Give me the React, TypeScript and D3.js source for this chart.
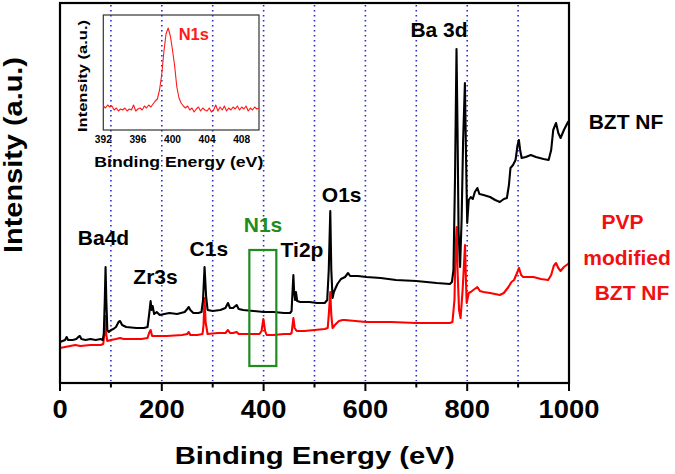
import React from "react";
import * as d3 from "d3";

// ---- Data (binding energy in eV, intensity in arbitrary units) ----
const bztNF: [number, number][] = [
  [0, 41], [5, 42], [10, 43], [13, 46], [16, 43], [25, 43], [32, 44], [36, 46], [39, 47], [42, 44],
  [50, 43], [60, 44], [70, 43], [80, 44], [84, 43], [86, 49], [88, 83], [89.5, 116], [91, 83], [93, 53],
  [96, 51], [100, 53], [105, 54], [110, 56], [115, 61], [118, 62], [122, 58], [130, 56], [150, 55], [165, 55],
  [172, 56], [175, 68], [178, 82], [180, 73], [182, 77], [185, 69], [190, 71], [196, 68], [205, 69], [215, 70],
  [230, 69], [245, 71], [250, 74], [253, 76], [256, 73], [262, 70], [272, 70], [278, 71], [281, 83], [284, 116],
  [287, 87], [290, 73], [300, 72], [315, 73], [325, 75], [330, 80], [334, 75], [340, 75], [347, 78], [351, 74],
  [360, 73], [380, 72], [400, 71], [420, 71], [440, 70], [452, 70], [455, 72], [457, 93], [458.5, 108], [460, 91],
  [462, 83], [463.5, 91], [466, 82], [472, 81], [490, 81], [505, 80], [520, 80], [525, 83], [528, 113], [531, 172],
  [533, 113], [535.5, 85], [538, 91], [545, 99], [552, 104], [560, 106], [566, 110], [570, 107], [585, 107], [602, 106],
  [630, 105], [660, 103], [700, 102], [740, 100], [766, 99], [770, 101], [773, 113], [776, 203], [779, 334], [781, 253],
  [783, 153], [786, 116], [789, 163], [792, 243], [795.5, 300], [797.5, 233], [800, 160], [803, 183], [807, 186], [811, 184],
  [815, 191], [820, 195], [824, 189], [832, 188], [845, 186], [855, 183], [864, 181], [872, 184], [878, 185], [882, 198],
  [885, 215], [890, 218], [895, 223], [899, 238], [901.5, 243], [904, 233], [907, 225], [915, 226], [925, 228], [935, 226],
  [950, 224], [960, 223], [965, 233], [969, 253], [974.5, 260], [979, 250], [983.5, 245], [990, 253], [998, 261], [1000, 262],
];

const pvpBztNF: [number, number][] = [
  [0, 35], [10, 36], [20, 37], [30, 38], [40, 37], [60, 38], [80, 38], [85, 39], [87, 48], [89.5, 67],
  [91, 48], [93, 42], [100, 43], [110, 44], [118, 45], [125, 44], [140, 44], [160, 44], [172, 45], [175, 50],
  [178, 53], [181, 47], [190, 47], [210, 47], [240, 48], [250, 49], [253, 51], [256, 48], [270, 48], [280, 49],
  [282, 58], [284, 85], [286, 61], [290, 49], [310, 50], [325, 50], [330, 53], [334, 50], [340, 50], [347, 51],
  [351, 49], [370, 49], [392, 49], [396, 52], [399.5, 64], [403, 52], [406, 48], [420, 48], [440, 49], [452, 49],
  [455, 50], [458.5, 65], [461, 55], [465, 52], [480, 52], [500, 53], [520, 54], [526, 55], [528, 68], [531, 91],
  [533, 68], [535.5, 55], [540, 58], [548, 62], [555, 63], [560, 63], [580, 62], [602, 61], [650, 61], [700, 60],
  [740, 60], [766, 60], [771, 61], [775, 83], [777, 133], [779.3, 156], [781, 113], [784, 73], [787, 65], [791, 93],
  [795.7, 138], [797.5, 103], [799, 80], [803, 90], [807, 91], [812, 93], [820, 96], [825, 92], [832, 91], [845, 90],
  [864, 88], [872, 90], [881, 96], [887, 101], [892, 103], [897, 109], [901.8, 115], [906, 108], [910, 106], [930, 106],
  [945, 104], [959, 103], [965, 108], [970, 117], [974.5, 120], [979, 115], [983.5, 112], [990, 116], [998, 119], [1000, 120],
];

// Inset: N1s high-resolution spectrum
const n1sSpectrum: [number, number][] = [
  [392.0, 24], [392.25, 22], [392.5, 25], [392.75, 23], [393.0, 24], [393.25, 20], [393.5, 22], [393.75, 19],
  [394.0, 21], [394.25, 20], [394.5, 22], [394.75, 19], [395.0, 21], [395.25, 20], [395.5, 25], [395.75, 19],
  [396.0, 21], [396.25, 22], [396.5, 20], [396.75, 24], [397.0, 22], [397.25, 25], [397.5, 23], [397.75, 26],
  [398.0, 29], [398.25, 31], [398.5, 40], [398.75, 55], [399.0, 78], [399.25, 96], [399.5, 102], [399.75, 94],
  [400.0, 80], [400.25, 64], [400.5, 43], [400.75, 32], [401.0, 27], [401.25, 24], [401.5, 22], [401.75, 24],
  [402.0, 20], [402.25, 22], [402.5, 18], [402.75, 21], [403.0, 23], [403.25, 19], [403.5, 22], [403.75, 20],
  [404.0, 19], [404.25, 22], [404.5, 18], [404.75, 20], [405.0, 25], [405.25, 19], [405.5, 23], [405.75, 20],
  [406.0, 24], [406.25, 19], [406.5, 22], [406.75, 20], [407.0, 23], [407.25, 21], [407.5, 24], [407.75, 20],
  [408.0, 23], [408.25, 21], [408.5, 24], [408.75, 19], [409.0, 22], [409.25, 20], [409.5, 23], [409.75, 21],
  [410.0, 22],
];

const xDomain: [number, number] = [0, 1000];
const yDomain: [number, number] = [0, 380];
const insetXDomain: [number, number] = [392, 410];
const insetYDomain: [number, number] = [0, 115];
const insetTicks = [392, 396, 400, 404, 408];
const gridEnergies = [100, 200, 300, 400, 500, 600, 700, 800, 900];

const peakLabels = ["Ba4d", "Zr3s", "C1s", "Ti2p", "O1s", "Ba 3d"];

const FONT = "'Liberation Sans', Arial, Helvetica, sans-serif";

export default function App() {
  const W = 675, H = 474;
  const left = 60, right = 569, top = 3, bottom = 383;
  const x = d3.scaleLinear().domain(xDomain).range([left, right]);
  const y = d3.scaleLinear().domain(yDomain).range([bottom, top]);

  const line = d3.line<[number, number]>().x((d) => x(d[0])).y((d) => y(d[1]));

  // inset
  const iL = 103.3, iR = 259, iT = 15, iB = 130;
  const ix = d3.scaleLinear().domain(insetXDomain).range([iL, iR]);
  const iy = d3.scaleLinear().domain(insetYDomain).range([iB, iT]);
  const iline = d3.line<[number, number]>().x((d) => ix(d[0])).y((d) => iy(d[1]));

  const majorTicks = x.ticks(5);
  const minorTicks = x.ticks(10).filter((t) => !majorTicks.includes(t));

  const labelPos: Record<string, [number, number]> = {
    "Ba4d": [103.5, 245],
    "Zr3s": [155.5, 284],
    "C1s": [208.8, 256],
    "Ti2p": [302, 257],
    "O1s": [341.7, 202],
    "Ba 3d": [439, 37],
  };

  return (
    <svg
      width={W}
      height={H}
      style={{ position: "absolute", left: 0, top: 0, display: "block", background: "#fff" }}
      fontFamily={FONT}
      fontWeight="bold"
    >
      <rect x={0} y={0} width={W} height={H} fill="#fff" />
      {/* grid */}
      {gridEnergies.map((g) => (
        <line
          key={g}
          x1={x(g)}
          x2={x(g)}
          y1={top + 2}
          y2={bottom - 2}
          stroke="#2a2ad0"
          strokeWidth={1.6}
          strokeDasharray="1.6,3.4"
        />
      ))}

      {/* curves */}
      <path d={line(pvpBztNF) || ""} fill="none" stroke="#ff0000" strokeWidth={2.1} strokeLinejoin="round" />
      <path d={line(bztNF) || ""} fill="none" stroke="#000" strokeWidth={2.1} strokeLinejoin="round" />

      {/* green box around N1s */}
      <rect x={x(372)} y={250} width={x(425) - x(372)} height={116} fill="none" stroke="#1e8c1e" strokeWidth={2.2} />
      <text x={263} y={231.5} fontSize={21} fill="#1e8c1e" textAnchor="middle">N1s</text>

      {/* peak labels */}
      {peakLabels.map((p) => (
        <text key={p} x={labelPos[p][0]} y={labelPos[p][1]} fontSize={21} fill="#000" textAnchor="middle">
          {p}
        </text>
      ))}

      {/* series labels */}
      <text x={626} y={128.5} fontSize={21} fill="#000" textAnchor="middle">BZT NF</text>
      <text x={622.5} y={228.5} fontSize={21} fill="#f01010" textAnchor="middle">PVP</text>
      <text x={627} y={265} fontSize={21} fill="#f01010" textAnchor="middle">modified</text>
      <text x={632} y={300} fontSize={21} fill="#f01010" textAnchor="middle">BZT NF</text>

      {/* frame */}
      <rect x={left} y={top} width={right - left} height={bottom - top} fill="none" stroke="#000" strokeWidth={2.2} />

      {/* x ticks */}
      {majorTicks.map((t) => (
        <g key={"M" + t}>
          <line x1={x(t)} x2={x(t)} y1={bottom} y2={bottom + 8} stroke="#000" strokeWidth={2} />
          <text
            x={x(t)}
            y={418}
            fontSize={25.5}
            textAnchor="middle"
            fill="#000"
            textLength={String(t).length * 15.2}
            lengthAdjust="spacingAndGlyphs"
          >
            {t}
          </text>
        </g>
      ))}
      {minorTicks.map((t) => (
        <line key={"m" + t} x1={x(t)} x2={x(t)} y1={bottom} y2={bottom + 4.5} stroke="#000" strokeWidth={2} />
      ))}

      {/* axis titles */}
      <text x={314.7} y={463.5} fontSize={23.5} textAnchor="middle" fill="#000" textLength={280} lengthAdjust="spacingAndGlyphs">
        Binding Energy (eV)
      </text>
      <text
        transform="translate(22,155) rotate(-90)"
        fontSize={25}
        textAnchor="middle"
        fill="#000"
        textLength={196}
        lengthAdjust="spacingAndGlyphs"
      >
        Intensity (a.u.)
      </text>

      {/* inset */}
      <rect x={iL} y={iT} width={iR - iL} height={iB - iT} fill="none" stroke="#333" strokeWidth={1.2} />
      <path d={iline(n1sSpectrum) || ""} fill="none" stroke="#ff1a1a" strokeWidth={1.1} strokeLinejoin="round" />
      {insetTicks.map((t) => (
        <text key={t} x={ix(t)} y={143.3} fontSize={11} textAnchor="middle" fill="#000"
          textLength={17} lengthAdjust="spacingAndGlyphs">
          {t}
        </text>
      ))}
      <text x={178.8} y={166.7} fontSize={15} textAnchor="middle" fill="#000" textLength={169} lengthAdjust="spacingAndGlyphs">
        Binding Energy (eV)
      </text>
      <text
        transform="translate(87,76) rotate(-90)"
        fontSize={12.5}
        textAnchor="middle"
        fill="#000"
        textLength={112}
        lengthAdjust="spacingAndGlyphs"
      >
        Intensity (a.u.)
      </text>
      <text x={193.8} y={40} fontSize={16.5} fill="#ff1a1a" textAnchor="middle">N1s</text>
    </svg>
  );
}
